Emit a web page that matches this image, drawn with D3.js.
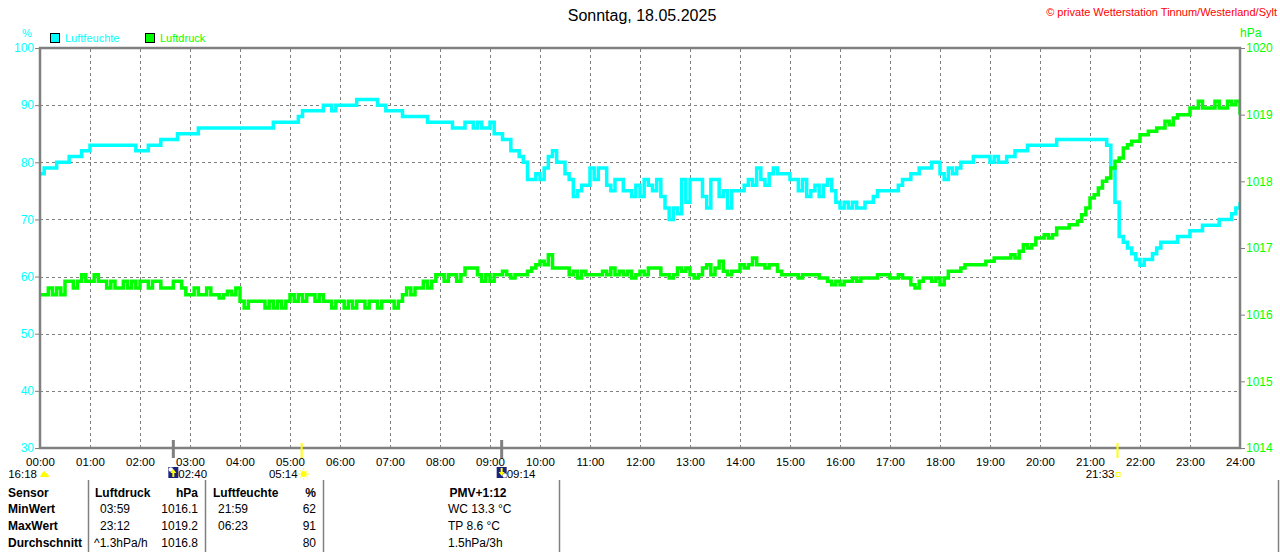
<!DOCTYPE html>
<html><head><meta charset="utf-8">
<script src="https://cdn.jsdelivr.net/npm/d3@7"></script>
<style>
html,body{margin:0;padding:0;background:#fff;}
svg{display:block;font-family:"Liberation Sans",Arial,sans-serif;}
</style></head>
<body>
<svg id="c" width="1280" height="552"></svg>
<script>
// ---- data (5-minute samples, 00:00 .. 24:00) ----
const sampleStepMinutes = 5;
const humidity = [
 78,79,79,79,80,80,80,81,81,81,82,82,
 83,83,83,83,83,83,83,83,83,83,83,82,
 82,82,83,83,83,84,84,84,84,85,85,85,
 85,85,86,86,86,86,86,86,86,86,86,86,
 86,86,86,86,86,86,86,86,87,87,87,87,
 87,87,88,89,89,89,89,89,90,90,89,90,
 90,90,90,90,91,91,91,91,91,90,90,89,
 89,89,89,88,88,88,88,88,88,87,87,87,
 87,87,87,86,86,86,87,87,86,87,86,86,
 87,85,85,84,84,82,82,81,80,77,77,78,
 77,79,81,82,80,80,78,77,74,75,76,76,
 79,77,79,79,76,75,77,77,75,75,74,76,
 74,77,76,75,77,74,72,70,72,71,77,73,
 77,77,77,74,72,77,77,74,75,72,75,75,
 75,76,77,76,79,77,76,78,79,78,78,78,
 77,77,75,77,74,75,76,74,76,77,75,73,
 72,73,72,73,72,72,73,73,74,75,75,75,
 75,75,76,77,77,78,78,79,79,79,80,80,
 78,77,79,78,79,80,80,80,81,81,81,81,
 80,81,80,80,81,81,82,82,82,83,83,83,
 83,83,83,83,84,84,84,84,84,84,84,84,
 84,84,84,84,83,79,73,67,66,65,64,63,
 62,63,63,64,65,66,66,66,66,67,67,67,
 68,68,68,69,69,69,69,70,70,70,71,72,
 73
];
const pressure = [
 1016.3,1016.3,1016.4,1016.3,1016.4,1016.3,1016.5,1016.5,1016.4,1016.5,1016.6,1016.5,
 1016.5,1016.6,1016.5,1016.5,1016.4,1016.5,1016.4,1016.4,1016.5,1016.4,1016.5,1016.4,
 1016.5,1016.5,1016.4,1016.5,1016.5,1016.4,1016.4,1016.4,1016.5,1016.5,1016.4,1016.3,
 1016.3,1016.4,1016.3,1016.3,1016.4,1016.3,1016.3,1016.25,1016.3,1016.35,1016.3,1016.4,
 1016.2,1016.1,1016.2,1016.2,1016.2,1016.2,1016.1,1016.2,1016.1,1016.2,1016.1,1016.2,
 1016.3,1016.2,1016.3,1016.2,1016.3,1016.3,1016.2,1016.3,1016.2,1016.2,1016.1,1016.2,
 1016.2,1016.1,1016.2,1016.1,1016.2,1016.2,1016.1,1016.2,1016.2,1016.1,1016.2,1016.2,
 1016.2,1016.1,1016.2,1016.3,1016.4,1016.3,1016.4,1016.4,1016.5,1016.4,1016.5,1016.6,
 1016.6,1016.5,1016.6,1016.6,1016.5,1016.6,1016.7,1016.7,1016.7,1016.6,1016.5,1016.6,
 1016.5,1016.6,1016.6,1016.65,1016.6,1016.55,1016.6,1016.6,1016.6,1016.65,1016.7,1016.75,
 1016.8,1016.75,1016.9,1016.7,1016.7,1016.7,1016.7,1016.6,1016.65,1016.55,1016.65,1016.6,
 1016.6,1016.6,1016.6,1016.65,1016.6,1016.7,1016.6,1016.65,1016.6,1016.65,1016.55,1016.6,
 1016.65,1016.6,1016.7,1016.7,1016.7,1016.6,1016.6,1016.55,1016.6,1016.7,1016.65,1016.7,
 1016.6,1016.55,1016.6,1016.7,1016.75,1016.6,1016.7,1016.8,1016.65,1016.6,1016.65,1016.65,
 1016.75,1016.7,1016.75,1016.85,1016.75,1016.75,1016.7,1016.75,1016.75,1016.65,1016.6,1016.6,
 1016.6,1016.6,1016.55,1016.6,1016.6,1016.6,1016.6,1016.55,1016.55,1016.5,1016.45,1016.5,
 1016.45,1016.5,1016.5,1016.55,1016.5,1016.55,1016.55,1016.55,1016.55,1016.6,1016.6,1016.6,
 1016.55,1016.55,1016.6,1016.55,1016.55,1016.45,1016.4,1016.5,1016.55,1016.55,1016.5,1016.55,
 1016.45,1016.55,1016.65,1016.65,1016.65,1016.7,1016.75,1016.75,1016.75,1016.75,1016.75,1016.8,
 1016.8,1016.85,1016.85,1016.85,1016.85,1016.9,1016.85,1016.95,1017.05,1017.0,1017.05,1017.15,
 1017.15,1017.2,1017.15,1017.2,1017.3,1017.3,1017.3,1017.35,1017.35,1017.4,1017.5,1017.6,
 1017.75,1017.8,1017.9,1018.0,1018.05,1018.2,1018.3,1018.35,1018.5,1018.55,1018.6,1018.6,
 1018.7,1018.7,1018.75,1018.75,1018.8,1018.8,1018.9,1018.85,1018.95,1019.0,1019.0,1019.0,
 1019.1,1019.1,1019.2,1019.1,1019.1,1019.1,1019.2,1019.1,1019.1,1019.2,1019.15,1019.2,
 1019.0
];
const hourLabels = ["00:00","01:00","02:00","03:00","04:00","05:00","06:00","07:00","08:00","09:00","10:00","11:00","12:00","13:00","14:00","15:00","16:00","17:00","18:00","19:00","20:00","21:00","22:00","23:00","24:00"];
const humTicks = [30,40,50,60,70,80,90,100];
const pressTicks = [1014,1015,1016,1017,1018,1019,1020];
const titleText = "Sonntag, 18.05.2025";
const copyrightText = "\u00A9 private Wetterstation Tinnum/Westerland/Sylt";
const seriesNames = ["Luftfeuchte","Luftdruck"];
// astronomical events
const eventTimes = [160, 314, 554, 1293];
const eventLabels = ["02:40","05:14","09:14","21:33"];
const eventKinds = ["moonrise","sunrise","moonset","sunset"];
const dayLength = "16:18";
// stats table
const tableHeader = ["Sensor","Luftdruck","hPa","Luftfeuchte","%","PMV+1:12"];
const tableRowNames = ["MinWert","MaxWert","Durchschnitt"];
const pressTimesCol = ["03:59","23:12","^1.3hPa/h"];
const pressValsCol = ["1016.1","1019.2","1016.8"];
const humTimesCol = ["21:59","06:23",""];
const humValsCol = ["62","91","80"];
const extraCol = ["WC 13.3 \u00B0C","TP 8.6 \u00B0C","1.5hPa/3h"];

// ---- drawing ----
const svg = d3.select("#c");
const CY = "#00FFFF", GR = "#00FF00", GRAY = "#808080";
const x = d3.scaleLinear().domain([0,1440]).range([40,1240]);
const yH = d3.scaleLinear().domain([30,100]).range([448,48]);
const yP = d3.scaleLinear().domain([1014,1020]).range([448,48]);

// grid
const grid = svg.append("g");
grid.append("g").attr("transform","translate(0,448)")
  .call(d3.axisBottom(x).tickValues(d3.range(60,1440,60)).tickSize(-400).tickFormat(""))
  .call(g=>{g.select(".domain").remove();g.selectAll("line").attr("stroke",GRAY).attr("stroke-dasharray","3,3").attr("shape-rendering","crispEdges");});
grid.append("g").attr("transform","translate(40,0)")
  .call(d3.axisLeft(yH).tickValues([40,50,60,70,80,90]).tickSize(-1200).tickFormat(""))
  .call(g=>{g.select(".domain").remove();g.selectAll("line").attr("stroke",GRAY).attr("stroke-dasharray","3,3").attr("shape-rendering","crispEdges");});

// lines
const humData = humidity.map((v,i)=>[i*sampleStepMinutes,v]);
const prData = pressure.map((v,i)=>[i*sampleStepMinutes,v]);
svg.append("clipPath").attr("id","pc").append("rect").attr("x",40).attr("y",46).attr("width",1200).attr("height",404);
svg.append("path").datum(humData).attr("clip-path","url(#pc)")
  .attr("d",d3.line().x(d=>x(d[0])).y(d=>yH(d[1])).curve(d3.curveStepAfter))
  .attr("fill","none").attr("stroke",CY).attr("stroke-width",3.5);
svg.append("path").datum(prData).attr("clip-path","url(#pc)")
  .attr("d",d3.line().x(d=>x(d[0])).y(d=>yP(d[1])).curve(d3.curveStepAfter))
  .attr("fill","none").attr("stroke",GR).attr("stroke-width",3.5);

// frame
svg.append("rect").attr("x",40).attr("y",48).attr("width",1200).attr("height",400)
  .attr("fill","none").attr("stroke",GRAY).attr("stroke-width",2.5);

// left axis
svg.append("g").attr("transform","translate(40,0)")
  .call(d3.axisLeft(yH).tickValues(humTicks).tickSize(5).tickPadding(1).tickFormat(d3.format("d")))
  .call(g=>{g.select(".domain").remove();g.selectAll("line").attr("stroke",GRAY);
    g.selectAll("text").attr("fill",CY).attr("font-size",12).attr("font-family","Liberation Sans, Arial");});
// right axis
svg.append("g").attr("transform","translate(1240,0)")
  .call(d3.axisRight(yP).tickValues(pressTicks).tickSize(5).tickPadding(1).tickFormat(d3.format("d")))
  .call(g=>{g.select(".domain").remove();g.selectAll("line").attr("stroke",GRAY);
    g.selectAll("text").attr("fill",GR).attr("font-size",12).attr("font-family","Liberation Sans, Arial");});
// bottom axis
svg.append("g").attr("transform","translate(0,448)")
  .call(d3.axisBottom(x).tickValues(d3.range(0,1441,60)).tickSize(0).tickPadding(10).tickFormat((d,i)=>hourLabels[i]))
  .call(g=>{g.select(".domain").remove();
    g.selectAll("text").attr("fill","#000").attr("font-size",11.5).attr("font-family","Liberation Sans, Arial");});

// title & texts
svg.append("text").attr("x",642).attr("y",21).attr("text-anchor","middle").attr("font-size",16).attr("fill","#000").text(titleText);
svg.append("text").attr("x",1277).attr("y",16).attr("text-anchor","end").attr("font-size",11).attr("fill","#FF0000").text(copyrightText);
svg.append("text").attr("x",27).attr("y",37).attr("text-anchor","middle").attr("font-size",11).attr("fill",CY).text("%");
svg.append("text").attr("x",1240).attr("y",37).attr("font-size",12).attr("fill",GR).text("hPa");

// legend
const legX = [50,145], legC = [CY,GR];
seriesNames.forEach((n,i)=>{
  svg.append("rect").attr("x",legX[i]+0.5).attr("y",33.5).attr("width",9).attr("height",9).attr("fill",legC[i]).attr("stroke","#000").attr("stroke-width",1);
  svg.append("text").attr("x",legX[i]+15).attr("y",42).attr("font-size",11).attr("fill",legC[i]).text(n);
});

// events
eventTimes.forEach((t,i)=>{
  const k = eventKinds[i], ex = x(t);
  const sun = k==="sunrise"||k==="sunset";
  svg.append("line").attr("x1",ex).attr("x2",ex).attr("y1",sun?443:440).attr("y2",458)
    .attr("stroke",sun?"#FFFF00":GRAY).attr("stroke-width",sun?2:3);
  const ty = 478;
  if(k==="moonrise"||k==="moonset"){
    const ix = ex-5;
    svg.append("rect").attr("x",ix).attr("y",467).attr("width",10).attr("height",11).attr("fill","#1a237e");
    svg.append("circle").attr("cx",k==="moonrise"?ix+2.5:ix+8).attr("cy",k==="moonrise"?469.5:475.5).attr("r",2.2).attr("fill","#fff");
    const ay = k==="moonrise";
    svg.append("path").attr("d",ay?`M${ix+5},469 l-3,4 h2 v4 h2 v-4 h2 z`:`M${ix+5},476 l-3,-4 h2 v-4 h2 v4 h2 z`).attr("fill","#FFFF00");
    svg.append("text").attr("x",ix+10).attr("y",ty).attr("font-size",11.5).attr("fill","#000").text(eventLabels[i]);
  } else if(k==="sunrise"){
    svg.append("text").attr("x",ex-4).attr("y",ty).attr("text-anchor","end").attr("font-size",11.5).attr("fill","#000").text(eventLabels[i]);
    const cx=ex+2, cy=474;
    svg.append("circle").attr("cx",cx).attr("cy",cy).attr("r",3).attr("fill","#FFFF00");
    d3.range(8).forEach(j=>{const a=j*Math.PI/4;
      svg.append("line").attr("x1",cx+Math.cos(a)*4).attr("y1",cy+Math.sin(a)*4).attr("x2",cx+Math.cos(a)*5.5).attr("y2",cy+Math.sin(a)*5.5).attr("stroke","#FFFF00").attr("stroke-width",1);});
  } else {
    svg.append("text").attr("x",ex-3).attr("y",ty).attr("text-anchor","end").attr("font-size",11.5).attr("fill","#000").text(eventLabels[i]);
    svg.append("rect").attr("x",ex-1.5).attr("y",472.5).attr("width",4).attr("height",4).attr("fill","none").attr("stroke","#FFFF00").attr("stroke-width",1);
  }
});
// day length
svg.append("text").attr("x",37).attr("y",478).attr("text-anchor","end").attr("font-size",11.5).attr("fill","#000").text(dayLength);
svg.append("path").attr("d","M40,477 L42,473 L44,471 L46,473 L48,474 L49,477 Z").attr("fill","#FFFF00");

// table
const sepX = [88,205,323,559,1278];
sepX.forEach(sx=>svg.append("line").attr("x1",sx+0.5).attr("x2",sx+0.5).attr("y1",480).attr("y2",552).attr("stroke",GRAY).attr("stroke-width",1.5));
const rowY = [497,513,530,547];
const tb = svg.append("g").attr("font-size",12).attr("fill","#000");
const T = (xx,yy,s,anchor,bold)=>tb.append("text").attr("x",xx).attr("y",yy).attr("text-anchor",anchor||"start").attr("font-weight",bold?"bold":"normal").text(s);
T(8,rowY[0],tableHeader[0],"start",true);
T(95,rowY[0],tableHeader[1],"start",true);
T(198,rowY[0],tableHeader[2],"end",true);
T(213,rowY[0],tableHeader[3],"start",true);
T(316,rowY[0],tableHeader[4],"end",true);
T(478,rowY[0],tableHeader[5],"middle",true);
tableRowNames.forEach((n,i)=>{
  const yy = rowY[i+1];
  T(8,yy,n,"start",true);
  T(i===2?94:100,yy,pressTimesCol[i]);
  T(198,yy,pressValsCol[i],"end");
  T(218,yy,humTimesCol[i]);
  T(316,yy,humValsCol[i],"end");
  T(448,yy,extraCol[i]);
});
</script>
</body></html>
